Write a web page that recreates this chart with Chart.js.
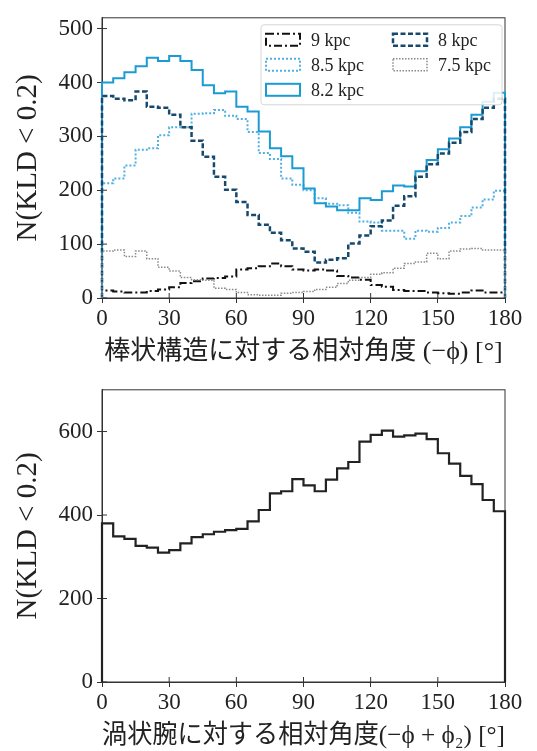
<!DOCTYPE html>
<html>
<head>
<meta charset="utf-8">
<script src="https://cdn.jsdelivr.net/npm/chart.js@4.4.1/dist/chart.umd.min.js"></script>
<style>
  html, body { margin: 0; padding: 0; background: #fff; }
  #wrap { position: relative; width: 537px; height: 751px; }
  canvas { position: absolute; left: 0; }
</style>
</head>
<body>
<div id="wrap">
  <canvas id="barChart" width="537" height="372" style="top:0px"></canvas>
  <canvas id="armChart" width="537" height="379" style="top:372px"></canvas>
</div>
<script>
// bin edges, 5 degree bins
const binEdges = [0, 5, 10, 15, 20, 25, 30, 35, 40, 45, 50, 55, 60, 65, 70, 75, 80, 85, 90,
  95, 100, 105, 110, 115, 120, 125, 130, 135, 140, 145, 150, 155, 160, 165, 170, 175, 180];

const xTicks = [0, 30, 60, 90, 120, 150, 180];
const yTicksTop = [0, 100, 200, 300, 400, 500];
const yTicksBottom = [0, 200, 400, 600];

// top panel: counts vs angle to the bar
const labelsTop = ['9 kpc', '8.5 kpc', '8.2 kpc', '8 kpc', '7.5 kpc'];
const n9 = [14, 12, 10, 10, 13, 16, 20, 28, 31, 36, 37, 40,
  53, 55, 59, 64, 59, 53, 51, 53, 51, 41, 38, 34,
  24, 21, 15, 13, 13, 10, 9, 8, 10, 14, 10, 10];
const n85 = [213, 222, 246, 275, 278, 302, 317, 317, 342, 343, 349, 338,
  332, 308, 269, 258, 222, 210, 200, 185, 175, 172, 158, 142,
  140, 125, 125, 110, 125, 123, 130, 140, 152, 168, 183, 199];
const n82 = [400, 408, 419, 430, 446, 440, 449, 440, 423, 395, 380, 383,
  355, 346, 309, 278, 263, 241, 203, 176, 170, 163, 163, 185,
  182, 198, 209, 207, 235, 256, 276, 296, 317, 340, 364, 381];
const n8 = [375, 370, 367, 383, 355, 353, 340, 317, 292, 262, 225, 201,
  178, 154, 136, 121, 107, 92, 86, 66, 71, 74, 101, 116,
  133, 144, 171, 189, 225, 248, 268, 288, 308, 332, 353, 370];
const n75 = [87, 89, 77, 87, 73, 57, 50, 38, 34, 33, 18, 16,
  10, 6, 5, 5, 9, 10, 12, 16, 20, 27, 33, 38,
  44, 47, 55, 64, 67, 83, 73, 87, 91, 92, 89, 89];

// bottom panel: counts vs angle to the spiral arm
const nArm = [380, 349, 343, 326, 322, 310, 316, 332, 347, 354, 360, 364,
  367, 385, 412, 452, 457, 486, 471, 457, 485, 512, 527, 576,
  592, 602, 588, 591, 595, 582, 548, 523, 494, 474, 436, 409];

const serif = "'Liberation Serif', 'DejaVu Serif', 'Noto Sans CJK JP', serif";
const axisColor = '#333';

// histogram outline (matplotlib histtype='step'); each value sits at its bin's right edge
function stepPoints(values) {
  const pts = [{ x: binEdges[0], y: 0 }];
  values.forEach((v, i) => pts.push({ x: binEdges[i + 1], y: v }));
  pts.push({ x: binEdges[binEdges.length - 1], y: 0 });
  return pts;
}

// full box + inward half of the ticks
const frame = {
  id: 'frame',
  beforeDatasetsDraw(chart) {
    const { ctx, chartArea: a, scales } = chart;
    ctx.save();
    ctx.strokeStyle = axisColor;
    ctx.lineWidth = 1;
    ctx.strokeRect(a.left, a.top, a.right - a.left, a.bottom - a.top);
    ctx.beginPath();
    scales.x.ticks.forEach(t => {
      const px = scales.x.getPixelForValue(t.value);
      ctx.moveTo(px, a.bottom);
      ctx.lineTo(px, a.bottom - 5);
    });
    scales.y.ticks.forEach(t => {
      const py = scales.y.getPixelForValue(t.value);
      ctx.moveTo(a.left, py);
      ctx.lineTo(a.left + 5, py);
    });
    ctx.stroke();
    ctx.restore();
  }
};

// two-column legend with rectangle handles, like matplotlib ncol=2
const stepLegend = {
  id: 'stepLegend',
  afterDraw(chart, args, opts) {
    if (!opts.show) return;
    const { ctx, chartArea: a } = chart;
    const boxW = 241, boxH = 80;
    const x0 = a.right - 3 - boxW, y0 = a.top + 7;
    ctx.save();
    ctx.fillStyle = 'rgba(255,255,255,0.85)';
    ctx.strokeStyle = '#d6d6d6';
    ctx.lineWidth = 1;
    ctx.beginPath();
    ctx.roundRect(x0, y0, boxW, boxH, 3);
    ctx.fill();
    ctx.stroke();
    ctx.font = '18px ' + serif;
    ctx.textBaseline = 'middle';
    chart.data.datasets.forEach((d, i) => {
      const col = Math.floor(i / 3), row = i % 3;
      const hx = x0 + 5 + col * 127, hy = y0 + 15 + row * 25;
      ctx.setLineDash(d.borderDash || []);
      ctx.strokeStyle = d.borderColor;
      ctx.lineWidth = d.borderWidth;
      ctx.strokeRect(hx, hy - 6, 34, 12);
      ctx.setLineDash([]);
      ctx.fillStyle = '#222';
      ctx.fillText(d.label, hx + 45, hy + 1);
    });
    ctx.restore();
  }
};

function axes(yMax, yTicks, xTitle, xHeight, xTitlePad) {
  return {
    x: {
      type: 'linear', min: 0, max: 180,
      afterBuildTicks: s => { s.ticks = xTicks.map(v => ({ value: v })); },
      afterFit: s => { s.height = xHeight; },
      grid: { drawOnChartArea: false, drawTicks: true, tickLength: 5, color: axisColor },
      border: { color: axisColor },
      ticks: { color: '#222', font: { family: serif, size: 23 }, padding: 2, maxRotation: 0 },
      title: { display: true, text: xTitle, color: '#222',
               font: { family: serif, size: 26, lineHeight: 1.0 }, padding: { top: 0, bottom: xTitlePad } }
    },
    y: {
      min: 0, max: yMax,
      afterBuildTicks: s => { s.ticks = yTicks.map(v => ({ value: v })); },
      afterFit: s => { s.width = 102; },
      grid: { drawOnChartArea: false, drawTicks: true, tickLength: 5, color: axisColor },
      border: { color: axisColor },
      ticks: { color: '#222', font: { family: serif, size: 23 }, padding: 4 },
      title: { display: true, text: 'N(KLD < 0.2)', color: '#222',
               font: { family: serif, size: 29, lineHeight: 1.0 }, padding: { top: 14, bottom: 0 } }
    }
  };
}

const seriesTop = [n9, n85, n82, n8, n75];
const colorsTop = ['#111111', '#4fb0e3', '#1b9bd3', '#17496c', '#8a8a8a'];
const dashTop = [[8, 3, 2, 3], [2, 2], [], [5, 2.5], [1.5, 1.5]];
const widthTop = [2, 2, 2, 2.5, 1.5];

new Chart(document.getElementById('barChart'), {
  type: 'line',
  data: {
    datasets: seriesTop.map((vals, i) => ({
      label: labelsTop[i],
      data: stepPoints(vals),
      borderColor: colorsTop[i],
      borderDash: dashTop[i],
      borderWidth: widthTop[i],
      stepped: 'after',
      pointRadius: 0,
      fill: false,
      clip: 6,
      order: seriesTop.length - i
    }))
  },
  options: {
    responsive: false,
    animation: false,
    layout: { padding: { top: 6, right: 32, left: 0, bottom: 0 } },
    scales: axes(520, yTicksTop, '棒状構造に対する相対角度 (−ϕ) [°]', 74, 7),
    plugins: { legend: { display: false }, tooltip: { enabled: false }, stepLegend: { show: true } }
  },
  plugins: [frame, stepLegend]
});

new Chart(document.getElementById('armChart'), {
  type: 'line',
  data: {
    datasets: [{
      label: 'all',
      data: stepPoints(nArm),
      borderColor: '#222',
      borderWidth: 2.2,
      stepped: 'after',
      pointRadius: 0,
      fill: false,
      clip: 6
    }]
  },
  options: {
    responsive: false,
    animation: false,
    layout: { padding: { top: 9, right: 32, left: 0, bottom: 0 } },
    scales: axes(700, yTicksBottom, '渦状腕に対する相対角度(−ϕ + ϕ₂) [°]', 69, 2),
    plugins: { legend: { display: false }, tooltip: { enabled: false }, stepLegend: { show: false } }
  },
  plugins: [frame, stepLegend]
});
</script>
</body>
</html>
